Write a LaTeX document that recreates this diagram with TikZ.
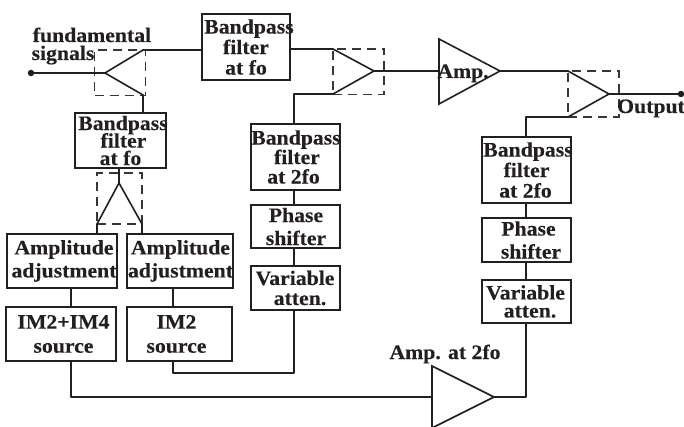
\documentclass[tikz,border=0pt]{standalone}
\usepackage{fontspec}
\setmainfont[FakeStretch=1.06,BoldFeatures={FakeBold=0.25}]{Liberation Serif}
\definecolor{ink}{HTML}{231F20}
\tikzset{
  x=1pt,y=-1pt,
  wire/.style={draw=ink,line width=1.6pt,line cap=round,line join=round},
  thinwire/.style={draw=ink,line width=1.3pt,line join=round},
  dashbox/.style={draw=ink!90,line width=1.2pt,dash pattern=on 9pt off 6pt,inner sep=0pt},
  blockbox/.style={draw=ink,line width=1.5pt,inner sep=0pt,align=center,text=ink,font=\fontsize{20.5}{20}\bfseries\selectfont},
  lab/.style={inner sep=0pt,anchor=base,text=ink,font=\fontsize{20.5}{20}\bfseries\selectfont,align=center},
  tri/.style={draw=ink,line width=1.6pt,line join=miter},
  pt/.style={circle,fill=ink,inner sep=0pt,minimum size=6.5pt},
}
% one text line, centred on the box axis + dx, that never widens its box
\newcommand{\tl}[2]{\makebox[0pt][c]{\hspace*{#1pt}#2}}
\newcommand{\blockat}[6]{%
  \pgfmathsetmacro{\bw}{#4-#2}\pgfmathsetmacro{\bh}{#5-#3}%
  \node[blockbox,minimum width=\bw pt,minimum height=\bh pt] (#1) at ({(#2+#4)/2},{(#3+#5)/2}) {#6};}
\begin{document}
\begin{tikzpicture}
\useasboundingbox (0,0) rectangle (684,427);
% blocks
\blockat{fA}{202}{14}{290}{80}{\tl{6}{Bandpass}\\[.5pt]\tl{0}{filter}\\[.5pt]\tl{0}{at fo}}
\blockat{fB}{75}{113}{166}{168}{\tl{5}{Bandpass}\\[-2.5pt]\tl{6}{filter}\\[-2.5pt]\tl{0}{at fo}}
\blockat{fC}{251}{124}{340}{190}{\tl{1}{Bandpass}\\[-.5pt]\tl{3}{filter}\\[-.5pt]\tl{-4}{at 2fo}}
\blockat{phC}{251}{205}{340}{248}{\tl{1}{Phase}\\[3pt]\tl{1}{shifter}}
\blockat{vaC}{251}{266}{340}{310}{\tl{-1}{Variable}\\\tl{9}{atten.}}
\blockat{fD}{482}{137}{571}{203}{\tl{3}{Bandpass}\\[.5pt]\tl{0}{filter}\\[.5pt]\tl{-2}{at 2fo}}
\blockat{phD}{482}{218}{571}{262}{\tl{4}{Phase}\\[3pt]\tl{9}{shifter}}
\blockat{vaD}{482}{280}{571}{323}{\tl{-2}{Variable}\\[-2pt]\tl{7}{atten.}}
\blockat{adjA}{7}{234}{117}{288}{\tl{4}{Amplitude}\\[3pt]\tl{4}{adjustment}}
\blockat{adjB}{127}{234}{233}{288}{\tl{1}{Amplitude}\\[3pt]\tl{1}{adjustment}}
\blockat{srcA}{6}{307}{116}{361}{\tl{5}{IM2+IM4}\\[4pt]\tl{5}{source}}
\blockat{srcB}{127}{307}{232}{361}{\tl{-6}{IM2}\\[4pt]\tl{-6}{source}}
% dashed combiner boxes
\node[dashbox,minimum width=51pt,minimum height=45.5pt] (dA) at (120,72.75) {};
\node[dashbox,minimum width=51pt,minimum height=45.5pt] (dB) at (358.5,71.75) {};
\node[dashbox,minimum width=51pt,minimum height=46pt] (dC) at (593.5,94) {};
\node[dashbox,minimum width=45pt,minimum height=51pt] (dD) at (119.5,198.5) {};
% coordinates
\coordinate (inP) at (31,73);
\coordinate (aApex) at (105,73);
\coordinate (aUp) at (143,50);
\coordinate (aLo) at (143,95);
\coordinate (bUp) at (333,49);
\coordinate (bLo) at (333,94);
\coordinate (bApex) at (374,71);
\coordinate (cUp) at (568,71);
\coordinate (cLo) at (568,117);
\coordinate (cApex) at (609,94);
\coordinate (dApex) at (119,183);
\coordinate (dL) at (97,224);
\coordinate (dR) at (142,224);
\coordinate (ampIn) at (439,71);
\coordinate (ampOut) at (500,71);
\coordinate (twoIn) at (432,397);
\coordinate (twoOut) at (494,397);
% amplifiers
\draw[tri] (439,39) -- (ampOut) -- (439,104) -- cycle;
\draw[tri] (432,366) -- (twoOut) -- (432,428) -- cycle;
% combiners
\draw[wire] (aUp) -- (aApex) -- (aLo);
\draw[wire] (bUp) -- (bApex) -- (bLo);
\draw[wire] (cUp) -- (cApex) -- (cLo);
\draw[wire] (dL) -- (dApex) -- (dR);
% connectors
\node[pt] (inDot) at (inP) {};
\node[pt] (outDot) at (681,94) {};
\draw[wire] (inDot) -- (aApex);
\draw[wire] (aUp) -- (aUp -| fA.west);
\draw[wire] (aLo) -- (aLo |- fB.north);
\draw[wire] (fA.east |- bUp) -- (bUp);
\draw[wire] (bLo) -- (294,94) -- (294,124);
\draw[wire] (bApex) -- (ampIn);
\draw[wire] (ampOut) -- (cUp);
\draw[wire] (cApex) -- (outDot);
\draw[wire] (cLo) -- (526,117) -- (526,137);
\draw[wire] (fB.south -| dApex) -- (dApex);
\draw[wire] (dL) -- (dL |- adjA.north);
\draw[wire] (dR) -- (dR |- adjB.north);
\draw[wire] (fC.south -| 294,0) -- (phC.north -| 294,0);
\draw[wire] (phC.south -| 294,0) -- (vaC.north -| 294,0);
\draw[wire] (fD.south -| 526,0) -- (phD.north -| 526,0);
\draw[wire] (phD.south -| 526,0) -- (vaD.north -| 526,0);
\draw[wire] (adjA.south -| 71,0) -- (srcA.north -| 71,0);
\draw[wire] (adjB.south -| 173,0) -- (srcB.north -| 173,0);
\draw[thinwire] (srcA.south -| 71,0) -- (71,397) -- (twoIn);
\draw[thinwire] (srcB.south -| 173,0) -- (173,373) -- (294,373) -- (vaC.south -| 294,0);
\draw[thinwire] (vaD.south -| 526,0) -- (526,397) -- (twoOut);
% labels
\node[lab] (lFund) at (92,42) {fundamental};
\node[lab] (lSig) at (63,60) {signals};
\node[lab] (lAmp) at (463,78) {Amp.};
\node[lab] (lOut) at (651,113) {Output};
\node[lab] (lTwo) at (445,359) {Amp. at 2fo};
\end{tikzpicture}
\end{document}
